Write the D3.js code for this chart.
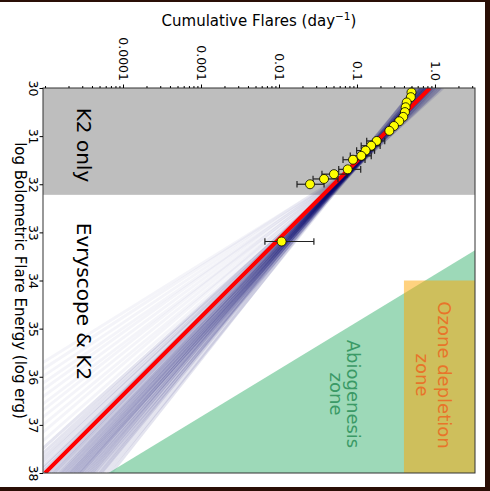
<!DOCTYPE html>
<html>
<head>
<meta charset="utf-8">
<script src="https://cdn.jsdelivr.net/npm/d3@7"></script>
<style>
body { margin: 0; background: #2a0f06; }
svg { display: block; font-family: "DejaVu Sans", sans-serif; }
</style>
</head>
<body>
<svg id="chart" width="490" height="491"></svg>
<script>
// cumulative flare rate vs flare energy
var energy = [30.09, 30.19, 30.30, 30.40, 30.50, 30.60, 30.69, 30.79, 30.89,
              31.10, 31.20, 31.30, 31.41, 31.49, 31.69, 31.79, 31.89, 32.00, 33.19];
var rate = [0.50, 0.49, 0.434, 0.421, 0.412, 0.392, 0.348, 0.298, 0.26,
            0.179, 0.152, 0.129, 0.1135, 0.0889, 0.076, 0.0507, 0.0378, 0.0250, 0.0108];
// error bars in dex
var errMinus = [0.03, 0.03, 0.03, 0.03, 0.03, 0.03, 0.03, 0.03, 0.03,
                0.128, 0.128, 0.115, 0.141, 0.128, 0.115, 0.154, 0.141, 0.167, 0.214];
var errPlus = [0.03, 0.03, 0.03, 0.03, 0.03, 0.03, 0.03, 0.03, 0.03,
               0.103, 0.115, 0.115, 0.128, 0.154, 0.167, 0.167, 0.179, 0.18, 0.414];

// best fit (red), log10 rate at E=30 and E=38
var fitEnergy = [30, 38];
var fitLogRate = [-0.064, -5.0];

// posterior draws (blue): log10 rate at E=31.8 and at E=38
var sampleLogMid = [-1.13, -1.10, -1.15, -1.12, -1.16, -1.11, -1.14, -1.09, -1.17, -1.13,
                    -1.12, -1.15, -1.10, -1.14, -1.11, -1.16, -1.13, -1.12, -1.09, -1.15,
                    -1.14, -1.11, -1.13, -1.17, -1.10, -1.12, -1.15, -1.13, -1.11, -1.14,
                    -1.16, -1.12, -1.10, -1.13, -1.15, -1.11, -1.14, -1.12, -1.16, -1.13,
                    -1.10, -1.14, -1.12, -1.15, -1.13];
var sampleLogEnd = [-4.15, -4.20, -4.25, -4.28, -4.30, -4.33, -4.36, -4.38, -4.40, -4.42,
                    -4.44, -4.46, -4.48, -4.50, -4.52, -4.54, -4.55, -4.57, -4.58, -4.60,
                    -4.62, -4.63, -4.65, -4.67, -4.68, -4.70, -4.72, -4.74, -4.76, -4.78,
                    -4.80, -4.82, -4.85, -4.88, -4.90, -4.93, -4.96, -5.00, -5.04, -5.08,
                    -5.12, -5.18, -5.24, -5.30, -5.38];
// the rare steep draws, only drawn below E=31.8
var steepLogMid = [-1.13, -1.15, -1.12, -1.14, -1.16, -1.13, -1.15, -1.17, -1.14, -1.16, -1.18, -1.16];
var steepLogEnd = [-5.50, -5.64, -5.78, -5.92, -6.06, -6.20, -6.36, -6.52, -6.70, -6.88, -7.08, -7.30];

// shaded zones
var k2OnlyEnergy = [30, 32.22];
var abioEnergy = [33.37, 38];
var abioRate = [3.26, 6.5e-5];
var ozoneEnergy = [34, 38];
var ozoneRate = [0.4, 3.26];

var energyTicks = [30, 31, 32, 33, 34, 35, 36, 37, 38];
var rateTicks = [0.0001, 0.001, 0.01, 0.1, 1.0];
var rateTickLabels = ["0.0001", "0.001", "0.01", "0.1", "1.0"];

var svg = d3.select("#chart");
var plotL = 43, plotR = 475, plotT = 88, plotB = 473;

var y = d3.scaleLinear().domain([30, 38]).range([plotT, plotB]);
var x = d3.scaleLog().domain([9.42e-6, 3.26]).range([plotL, plotR]);

svg.append("rect").attr("x", 0).attr("y", 2).attr("width", 485).attr("height", 485).attr("fill", "#fff");

svg.append("clipPath").attr("id", "clip")
  .append("rect").attr("x", plotL).attr("y", plotT).attr("width", plotR - plotL).attr("height", plotB - plotT);

var plot = svg.append("g").attr("clip-path", "url(#clip)");

// K2 only region
plot.append("rect")
  .attr("x", plotL).attr("width", plotR - plotL)
  .attr("y", y(k2OnlyEnergy[0])).attr("height", y(k2OnlyEnergy[1]) - y(k2OnlyEnergy[0]))
  .attr("fill", "#bebebe");

// posterior draws: straight lines through the two anchors
var line = d3.line().x(function (d) { return x(d[1]); }).y(function (d) { return y(d[0]); });
function drawDraw(m, end, from, alpha) {
  var slope = (end - m) / (38 - 31.8);
  var startLog = m + slope * (from - 31.8);
  plot.append("path")
    .attr("d", line([[from, Math.pow(10, startLog)], [38, Math.pow(10, end)]]))
    .attr("stroke", "#0a0a70").attr("stroke-opacity", alpha).attr("stroke-width", 3).attr("fill", "none");
}
steepLogMid.forEach(function (m, i) { drawDraw(m, steepLogEnd[i], 31.8, 0.045); });
sampleLogMid.forEach(function (m, i) { drawDraw(m, sampleLogEnd[i], 30, 0.11); });

// best fit
plot.append("path")
  .attr("d", line(fitEnergy.map(function (e, i) { return [e, Math.pow(10, fitLogRate[i])]; })))
  .attr("stroke", "red").attr("stroke-width", 4).attr("fill", "none");

// abiogenesis zone
plot.append("path")
  .attr("d", line([[abioEnergy[0], abioRate[0]], [abioEnergy[1], abioRate[1]], [abioEnergy[1], abioRate[0]]]) + "Z")
  .attr("fill", "mediumseagreen").attr("fill-opacity", 0.5);

// ozone depletion zone
plot.append("rect")
  .attr("x", x(ozoneRate[0])).attr("width", x(ozoneRate[1]) - x(ozoneRate[0]))
  .attr("y", y(ozoneEnergy[0])).attr("height", y(ozoneEnergy[1]) - y(ozoneEnergy[0]))
  .attr("fill", "orange").attr("fill-opacity", 0.5);

function rotText(cx, cy, lines, size, color, lineGap) {
  var t = svg.append("text")
    .attr("transform", "translate(" + cx + "," + cy + ") rotate(90)")
    .attr("text-anchor", "middle").attr("font-size", size).attr("fill", color);
  lines.forEach(function (s, i) {
    t.append("tspan").attr("x", 0).attr("dy", i === 0 ? 0 : lineGap).text(s);
  });
  return t;
}

rotText(76.5, 145, ["K2 only"], 20, "#000");
rotText(76.5, 301.5, ["Evryscope & K2"], 20, "#000");
rotText(347, 394, ["Abiogenesis", "zone"], 18, "#3a9a66", 17);
rotText(438, 375, ["Ozone depletion", "zone"], 18, "#e8742a", 22);

// error bars and points
var pts = energy.map(function (e, i) { return { e: e, r: rate[i], lo: errMinus[i], hi: errPlus[i] }; });
var eb = svg.append("g").attr("stroke", "#222").attr("stroke-width", 1.2);
pts.forEach(function (d) {
  var x0 = x(d.r * Math.pow(10, -d.lo)), x1 = x(d.r * Math.pow(10, d.hi)), yy = y(d.e);
  eb.append("line").attr("x1", x0).attr("x2", x1).attr("y1", yy).attr("y2", yy);
  eb.append("line").attr("x1", x0).attr("x2", x0).attr("y1", yy - 3.3).attr("y2", yy + 3.3);
  eb.append("line").attr("x1", x1).attr("x2", x1).attr("y1", yy - 3.3).attr("y2", yy + 3.3);
});
svg.append("g").selectAll("circle").data(pts).enter().append("circle")
  .attr("cx", function (d) { return x(d.r); })
  .attr("cy", function (d) { return y(d.e); })
  .attr("r", 4.5).attr("fill", "#ffff00").attr("stroke", "#000").attr("stroke-width", 0.8);

// frame
svg.append("rect").attr("x", plotL).attr("y", plotT).attr("width", plotR - plotL).attr("height", plotB - plotT)
  .attr("fill", "none").attr("stroke", "#333").attr("stroke-width", 1);

// energy axis (left)
var ax = svg.append("g").attr("transform", "translate(" + plotL + ",0)")
  .call(d3.axisLeft(y).tickValues(energyTicks).tickSize(3.5).tickFormat(d3.format("d")));
ax.select(".domain").remove();
ax.selectAll("text").attr("x", 0).attr("dy", 0).attr("text-anchor", "middle")
  .attr("transform", "translate(-14,0) rotate(90)").attr("font-size", 12.5).attr("font-family", "DejaVu Sans");

// rate axis (top), major and minor ticks
var minor = x.ticks().filter(function (v) { return rateTicks.indexOf(v) < 0; });
var axm = svg.append("g").attr("transform", "translate(0," + plotT + ")")
  .call(d3.axisTop(x).tickValues(minor).tickSize(2).tickFormat(""));
axm.select(".domain").remove();
var at = svg.append("g").attr("transform", "translate(0," + plotT + ")")
  .call(d3.axisTop(x).tickValues(rateTicks).tickSize(3.5)
    .tickFormat(function (d, i) { return rateTickLabels[i]; }));
at.select(".domain").remove();
at.selectAll("text").attr("x", 0).attr("y", 0).attr("dy", 0).attr("text-anchor", "end")
  .attr("transform", "translate(-4.5,-7) rotate(90)").attr("font-size", 12.5).attr("font-family", "DejaVu Sans");

// axis titles
var title = svg.append("text").attr("x", (plotL + plotR) / 2).attr("y", 26)
  .attr("text-anchor", "middle").attr("font-size", 15);
title.append("tspan").text("Cumulative Flares (day");
title.append("tspan").attr("font-size", 10.5).attr("dy", -6).text("\u22121");
title.append("tspan").attr("dy", 6).text(")");

rotText(14.5, (plotT + plotB) / 2, ["log Bolometric Flare Energy (log erg)"], 15, "#000");
</script>
</body>
</html>
